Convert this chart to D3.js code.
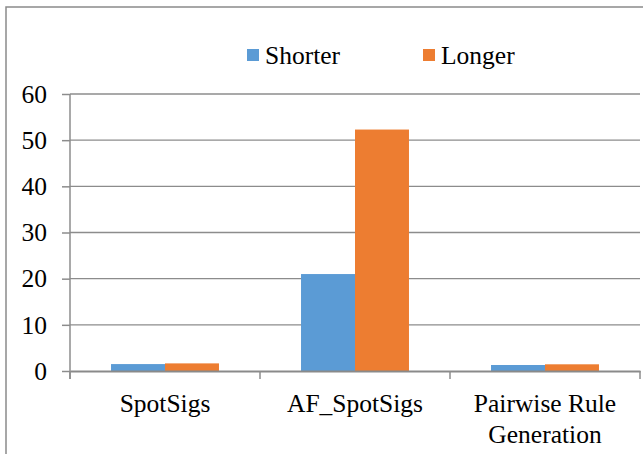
<!DOCTYPE html>
<html>
<head>
<meta charset="utf-8">
<script src="https://cdn.jsdelivr.net/npm/d3@7"></script>
<style>
  body { margin: 0; background: #fff; }
</style>
</head>
<body>
<div id="chart"></div>
<script>
const categories = ['SpotSigs', 'AF_SpotSigs', 'Pairwise Rule\nGeneration'];
const series = ['Shorter', 'Longer'];
const shorter = [1.5, 21.0, 1.3];
const longer = [1.65, 52.3, 1.45];
const yTicks = [0, 10, 20, 30, 40, 50, 60];

const colors = { Shorter: '#5b9bd5', Longer: '#ed7d31' };
const values = { Shorter: shorter, Longer: longer };
const serif = "'Liberation Serif', 'Times New Roman', Times, 'DejaVu Serif', serif";

const W = 643, H = 454;
const plot = { left: 70, right: 640, top: 94, bottom: 371 };

const svg = d3.select('#chart').append('svg')
  .attr('width', W)
  .attr('height', H);

// outer frame
svg.append('rect')
  .attr('x', 6).attr('y', 7)
  .attr('width', W + 10).attr('height', H + 10)
  .attr('fill', 'none')
  .attr('stroke', '#8a8a8a')
  .attr('stroke-width', 1.5);

const x0 = d3.scaleBand().domain(categories).range([plot.left, plot.right]);
const x1 = d3.scaleBand().domain(series).range([0, x0.bandwidth()]).paddingOuter(0.76);
const y = d3.scaleLinear().domain([0, 60]).range([plot.bottom, plot.top]);

// gridlines
svg.append('g')
  .selectAll('line')
  .data(yTicks.filter(d => d > 0))
  .join('line')
  .attr('x1', plot.left).attr('x2', plot.right)
  .attr('y1', d => y(d)).attr('y2', d => y(d))
  .attr('stroke', '#8c8c8c')
  .attr('stroke-width', 1.3);

// y axis
const yAxis = d3.axisLeft(y).tickValues(yTicks).tickSize(8).tickPadding(15);
const gy = svg.append('g')
  .attr('transform', `translate(${plot.left},0)`)
  .call(yAxis);
gy.select('.domain').remove();
gy.selectAll('.tick line').attr('stroke', '#8c8c8c').attr('stroke-width', 1.5);
gy.selectAll('.tick text')
  .style('font-family', serif)
  .style('font-size', '25.5px')
  .attr('fill', '#000');
gy.append('line')
  .attr('x1', 0).attr('x2', 0)
  .attr('y1', plot.top).attr('y2', plot.bottom + 8)
  .attr('stroke', '#8c8c8c')
  .attr('stroke-width', 1.5);

// bars
const groups = svg.append('g')
  .selectAll('g')
  .data(categories.map((c, i) => ({ c, i })))
  .join('g')
  .attr('transform', d => `translate(${x0(d.c)},0)`);

groups.selectAll('rect')
  .data(d => series.map(s => ({ s, v: values[s][d.i] })))
  .join('rect')
  .attr('x', d => x1(d.s))
  .attr('width', x1.bandwidth())
  .attr('y', d => y(d.v))
  .attr('height', d => y(0) - y(d.v))
  .attr('fill', d => colors[d.s]);

// x axis
const xAxis = d3.axisBottom(x0).tickSize(0).tickFormat('');
const gx = svg.append('g')
  .attr('transform', `translate(0,${plot.bottom})`)
  .call(xAxis);
gx.select('.domain').attr('stroke', '#8a8a8a').attr('stroke-width', 2);

// category boundary ticks
svg.append('g')
  .selectAll('line')
  .data(categories.map(c => x0(c)).concat([x0(categories[categories.length - 1]) + x0.bandwidth()]))
  .join('line')
  .attr('x1', d => d).attr('x2', d => d)
  .attr('y1', plot.bottom).attr('y2', plot.bottom + 8)
  .attr('stroke', '#8c8c8c')
  .attr('stroke-width', 1.5);

// category labels
const labels = svg.append('g')
  .selectAll('text')
  .data(categories)
  .join('text')
  .attr('text-anchor', 'middle')
  .style('font-family', serif)
  .style('font-size', '25.5px')
  .attr('fill', '#000')
  .attr('x', d => x0(d) + x0.bandwidth() / 2)
  .attr('y', 412);
labels.selectAll('tspan')
  .data(d => d.split('\n').map(t => ({ t, x: x0(d) + x0.bandwidth() / 2 })))
  .join('tspan')
  .attr('x', d => d.x)
  .attr('dy', (d, i) => i === 0 ? 0 : 31)
  .text(d => d.t);

// legend
const legendX = [247, 423];
const legend = svg.append('g')
  .selectAll('g')
  .data(series)
  .join('g')
  .attr('transform', (d, i) => `translate(${legendX[i]},0)`);
legend.append('rect')
  .attr('x', 0).attr('y', 49)
  .attr('width', 12).attr('height', 12)
  .attr('fill', d => colors[d]);
legend.append('text')
  .attr('x', 18).attr('y', 64)
  .style('font-family', serif)
  .style('font-size', '25.5px')
  .attr('fill', '#000')
  .text(d => d);
</script>
</body>
</html>
